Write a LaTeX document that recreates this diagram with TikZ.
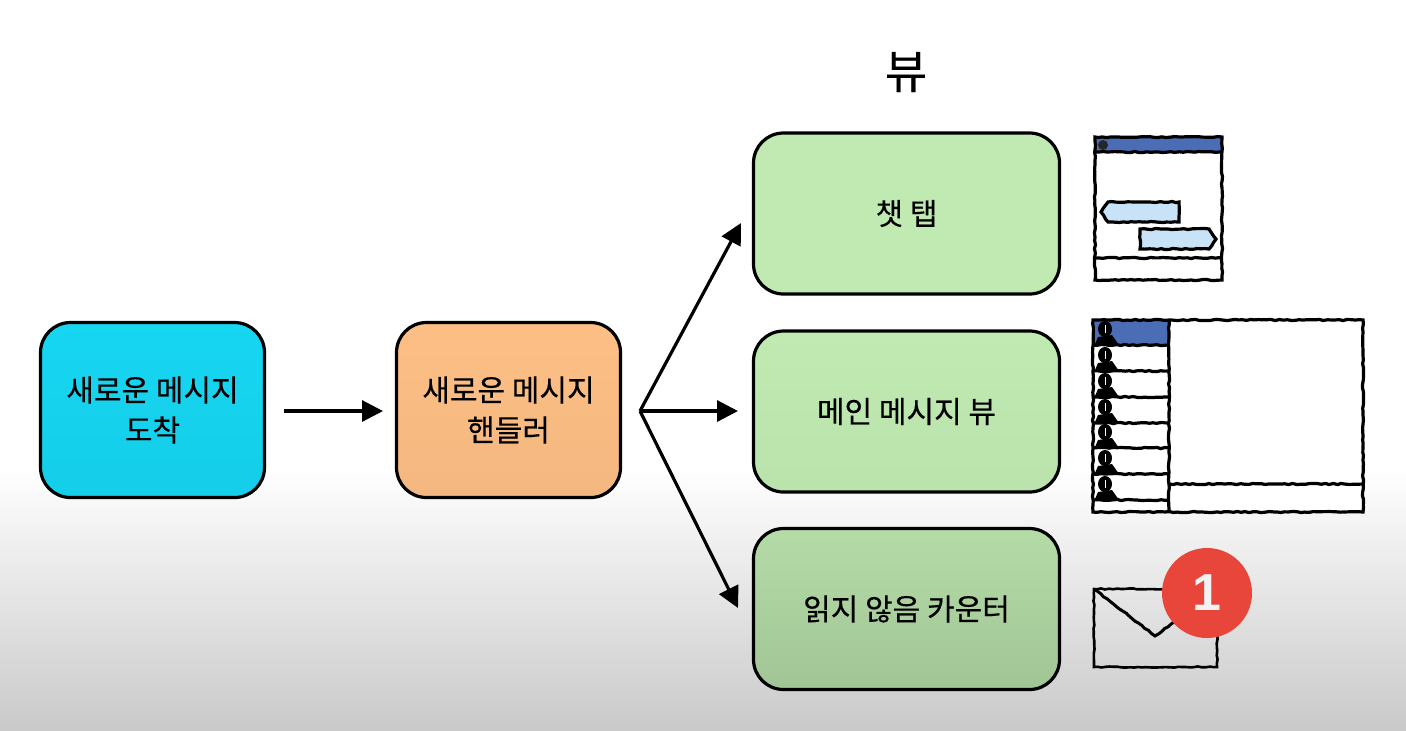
\documentclass[tikz,border=0pt]{standalone}
\usepackage{fontspec}
\setmainfont[FakeBold=0.35]{Noto Sans CJK KR}
\newfontfamily\badgefont{Liberation Sans}
\usetikzlibrary{arrows.meta,decorations.pathmorphing}
\definecolor{arrivalblue}{HTML}{16D6F2}
\definecolor{handlerorange}{HTML}{FDBF85}
\definecolor{viewgreen}{HTML}{C0EAB2}
\definecolor{barblue}{HTML}{4A6DB5}
\definecolor{bubbleblue}{HTML}{C8E2F8}
\definecolor{badgered}{HTML}{E8453B}
\begin{document}
\begin{tikzpicture}[x=0.5pt, y=-0.5pt]
        \tikzstyle{every node}=[font=\fontsize{15pt}{20pt}\selectfont, align=center, text=black]
        \tikzstyle{rough}=[decorate, decoration={random steps, segment length=2pt, amplitude=0.3pt}]
        \tikzstyle{sideblock}=[draw=black, line width=1.6pt, rounded corners=15pt, minimum width=112pt, minimum height=87.5pt]
        \tikzstyle{viewblock}=[draw=black, line width=1.6pt, rounded corners=15pt, minimum width=153pt, minimum height=80.5pt]
        \tikzstyle{flow}=[draw=black, line width=1.6pt, -{Triangle[length=10.5pt, width=10.5pt]}]
        \tikzstyle{sketch}=[draw=black, line width=1.6pt, rough]
        \useasboundingbox (0,0) rectangle (1406,730);
        \fill [white] (0,0) rectangle (1406,730);
        \shade [top color=white, bottom color=black!21] (0,468) rectangle (1406,730);

        \node [sideblock, top color=arrivalblue, bottom color=arrivalblue!96!black] (arrival) at (152.5,410) {새로운 메시지\\도착};
        \node [sideblock, top color=handlerorange, bottom color=handlerorange!96!black] (handler) at (508.5,410) {새로운 메시지\\핸들러};
        \node [viewblock, fill=viewgreen] (chattab) at (906.5,213.5) {챗 탭};
        \node [viewblock, top color=viewgreen, bottom color=viewgreen!97!black] (mainview) at (906.5,411.5) {메인 메시지 뷰};
        \node [viewblock, top color=viewgreen!94!black, bottom color=viewgreen!84!black] (unread) at (906.5,609) {읽지 않음 카운터};
        \node [font=\fontsize{23pt}{28pt}\selectfont] (viewtitle) at (906,72) {뷰};

        \coordinate (arrivalout) at (284,411);
        \coordinate (handlerin) at (383,411);
        \coordinate (hub) at (640,411);
        \coordinate (chatin) at (741,223);
        \coordinate (mainin) at (738,411);
        \coordinate (unreadin) at (738,608);
        \draw [flow] (arrivalout) -- (handlerin);
        \draw [flow] (hub) -- (chatin);
        \draw [flow] (hub) -- (mainin);
        \draw [flow] (hub) -- (unreadin);

        \fill [barblue] (1095,137) rectangle (1222,152);
        \draw [sketch] (1095,137) rectangle (1222,280);
        \draw [sketch] (1095,152) -- (1222,152);
        \draw [sketch] (1095,258) -- (1222,258);
        \fill [black!85] (1103,145) circle (2.5pt);
        \draw [sketch, fill=bubbleblue] (1108,202) -- (1179,202) -- (1179,222) -- (1108,222) -- (1101,212) -- cycle;
        \draw [sketch, fill=bubbleblue] (1140,229) -- (1209,229) -- (1216,239) -- (1209,249) -- (1140,249) -- cycle;

        \fill [white] (1093,320) rectangle (1363,512);
        \fill [barblue] (1093,320) rectangle (1169,345);
        \foreach \rowy in {345,371,397,423,448,474,500} {
            \draw [sketch] (1093,\rowy) -- (1169,\rowy);
        }
        \foreach \rowy in {332,358,384,410,435,461,487} {
            \fill [black] (1105,\rowy-3) ellipse (7 and 8);
            \fill [white] (1105,\rowy-7) rectangle (1106,\rowy+1);
            \fill [black] (1095,\rowy+12) -- (1098,\rowy+5) -- (1112,\rowy+3) -- (1119,\rowy+13) -- cycle;
        }
        \draw [sketch] (1093,320) rectangle (1363,512);
        \draw [sketch] (1169,320) -- (1169,512);
        \draw [sketch] (1169,484) -- (1363,484);

        \draw [sketch, line width=1.3pt] (1094,589) rectangle (1217,667);
        \draw [sketch, line width=1.5pt] (1094,589) -- (1155,636) -- (1185,614);
        \node [circle, fill=badgered, minimum size=45pt, inner sep=0pt, text=white!95!black, font=\fontsize{26pt}{30pt}\badgefont\bfseries\selectfont] (badge) at (1207,593) {1};
\end{tikzpicture}
\end{document}
